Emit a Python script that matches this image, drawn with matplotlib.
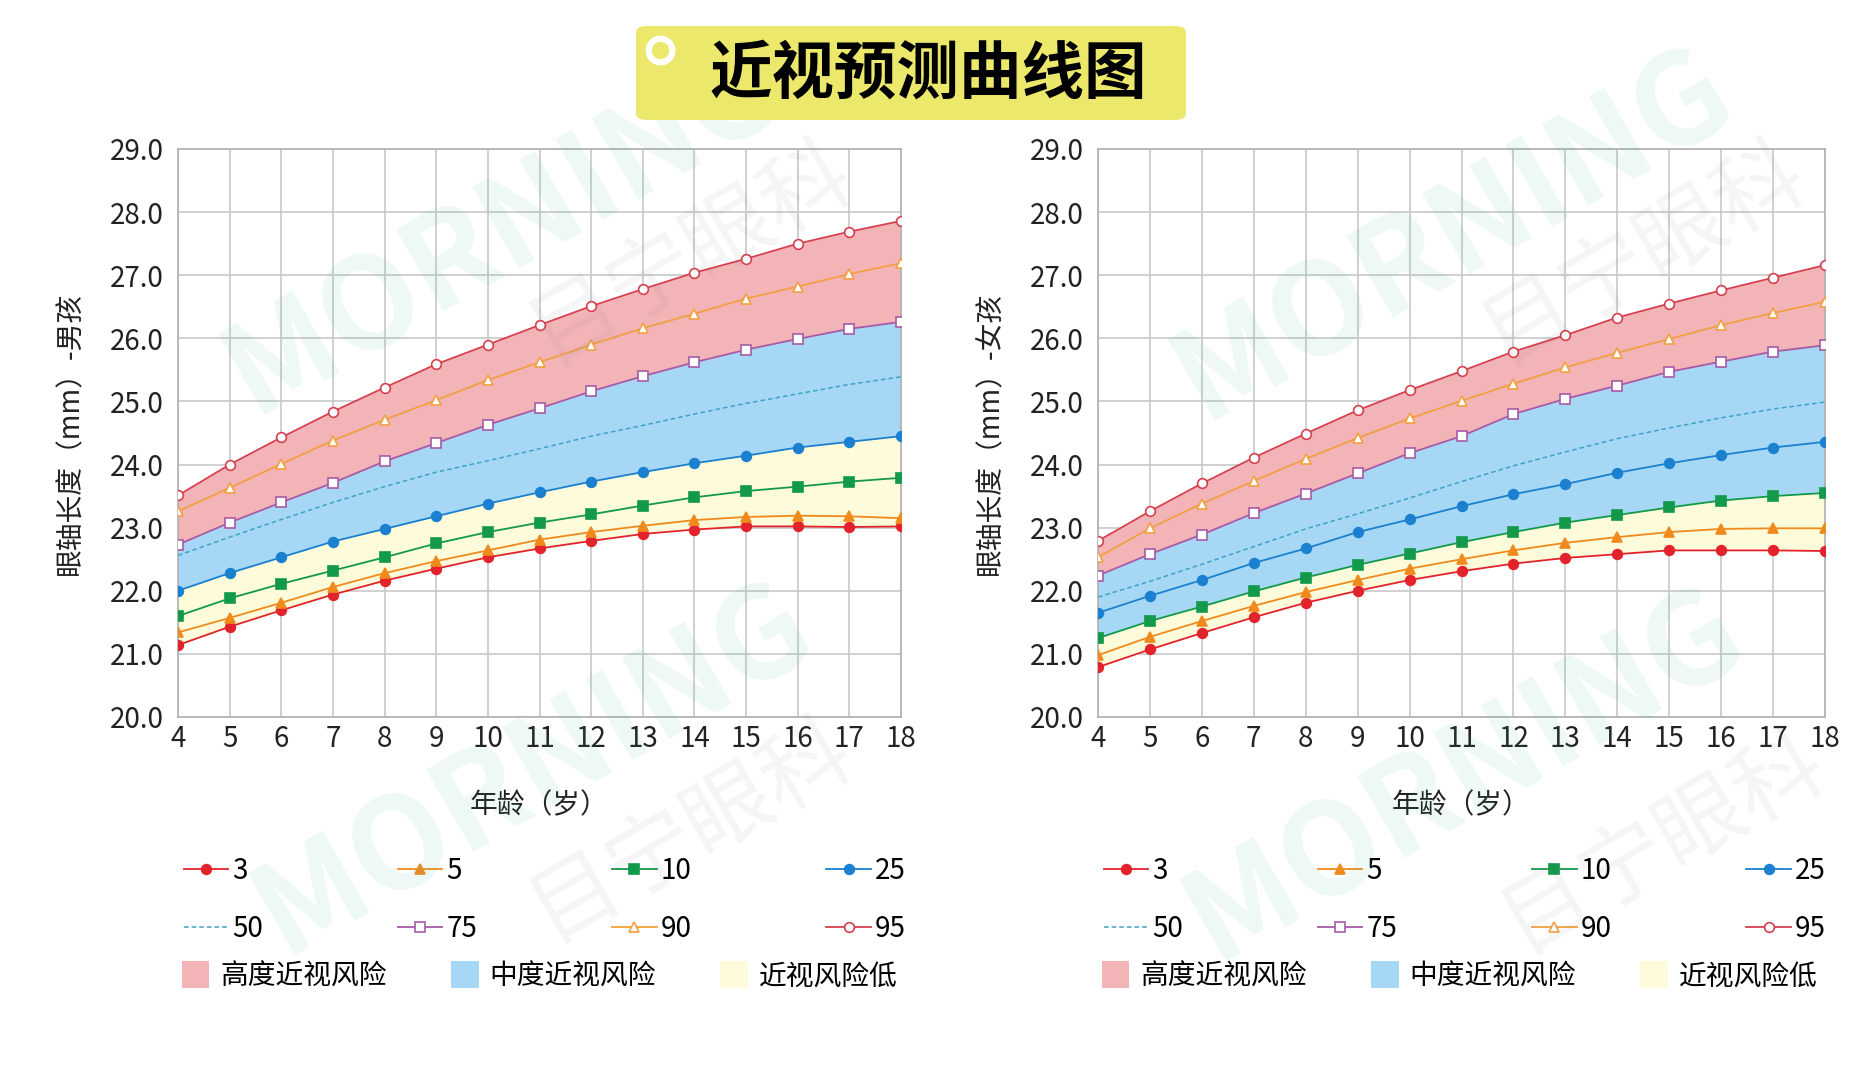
import matplotlib.pyplot as plt
from matplotlib.patches import FancyBboxPatch, Patch
from matplotlib.lines import Line2D

plt.rcParams['font.family'] = ['Noto Sans CJK SC', 'DejaVu Sans']

ages = list(range(4, 19))

# boys percentiles (mm)
boys_p3 = [21.14, 21.43, 21.69, 21.94, 22.16, 22.35, 22.53, 22.67, 22.79, 22.90, 22.97, 23.02, 23.02, 23.01, 23.02]
boys_p5 = [21.34, 21.57, 21.81, 22.06, 22.28, 22.47, 22.64, 22.81, 22.93, 23.03, 23.12, 23.17, 23.19, 23.18, 23.15]
boys_p10 = [21.60, 21.88, 22.11, 22.32, 22.53, 22.75, 22.93, 23.08, 23.21, 23.35, 23.48, 23.58, 23.65, 23.73, 23.79]
boys_p25 = [22.00, 22.28, 22.53, 22.78, 22.98, 23.18, 23.38, 23.56, 23.73, 23.88, 24.02, 24.14, 24.27, 24.36, 24.45]
boys_p50 = [22.56, 22.85, 23.13, 23.40, 23.65, 23.88, 24.06, 24.25, 24.45, 24.62, 24.80, 24.97, 25.12, 25.27, 25.39]
boys_p75 = [22.73, 23.08, 23.40, 23.71, 24.05, 24.34, 24.63, 24.89, 25.16, 25.40, 25.62, 25.82, 25.99, 26.15, 26.26]
boys_p90 = [23.26, 23.63, 24.01, 24.38, 24.71, 25.02, 25.34, 25.62, 25.90, 26.16, 26.39, 26.63, 26.82, 27.02, 27.19]
boys_p95 = [23.51, 24.00, 24.43, 24.84, 25.22, 25.59, 25.90, 26.21, 26.51, 26.78, 27.04, 27.26, 27.50, 27.69, 27.86]

# girls percentiles (mm)
girls_p3 = [20.79, 21.07, 21.33, 21.58, 21.81, 22.00, 22.17, 22.31, 22.43, 22.52, 22.58, 22.64, 22.64, 22.64, 22.63]
girls_p5 = [20.98, 21.27, 21.52, 21.76, 21.98, 22.17, 22.35, 22.50, 22.64, 22.76, 22.85, 22.93, 22.98, 22.99, 22.99]
girls_p10 = [21.25, 21.52, 21.75, 21.99, 22.21, 22.41, 22.59, 22.77, 22.93, 23.08, 23.20, 23.32, 23.43, 23.50, 23.55]
girls_p25 = [21.65, 21.92, 22.17, 22.44, 22.67, 22.93, 23.13, 23.34, 23.53, 23.69, 23.87, 24.02, 24.15, 24.27, 24.36]
girls_p50 = [21.90, 22.15, 22.42, 22.70, 22.98, 23.22, 23.47, 23.73, 23.98, 24.20, 24.41, 24.58, 24.74, 24.88, 24.99]
girls_p75 = [22.24, 22.58, 22.89, 23.23, 23.54, 23.86, 24.18, 24.45, 24.80, 25.04, 25.25, 25.47, 25.63, 25.79, 25.89]
girls_p90 = [22.53, 22.99, 23.38, 23.74, 24.09, 24.42, 24.73, 25.01, 25.28, 25.54, 25.77, 25.99, 26.21, 26.40, 26.58]
girls_p95 = [22.79, 23.26, 23.70, 24.11, 24.49, 24.86, 25.18, 25.48, 25.79, 26.05, 26.33, 26.55, 26.76, 26.96, 27.16]

labels = ['3', '5', '10', '25', '50', '75', '90', '95']
zone_labels = ['高度近视风险', '中度近视风险', '近视风险低']

pink = '#f3b4b8'
blue = '#a6d8f5'
yellow = '#fdfbd9'

# (color, marker, filled, linestyle)
styles = [
    ('#e3232c', 'o', True, '-'),
    ('#f08a1d', '^', True, '-'),
    ('#129a4a', 's', True, '-'),
    ('#1a80cf', 'o', True, '-'),
    ('#3ea2c8', None, True, (0, (3, 2))),
    ('#a65ba6', 's', False, '-'),
    ('#f0a040', '^', False, '-'),
    ('#d6404e', 'o', False, '-'),
]

fig = plt.figure(figsize=(18.72, 10.8), dpi=100)
fig.patch.set_facecolor('white')

# faint watermark
wm = dict(fontsize=92, alpha=0.09, fontweight='bold', rotation=30, ha='center', va='center',
          color='#3cb8a8', zorder=0)
for x, y in [(0.269, 0.789), (0.285, 0.289), (0.776, 0.783), (0.782, 0.283)]:
    fig.text(x, y, 'MORNING', **wm)
cn = dict(fontsize=64, alpha=0.07, rotation=30, ha='center', va='center', color='#707070', zorder=0)
for x, y in [(0.369, 0.767), (0.369, 0.233), (0.878, 0.767), (0.888, 0.222)]:
    fig.text(x, y, '目宁眼科', **cn)

# title box
box = FancyBboxPatch((636 / 1872, 1 - 120 / 1080), 550 / 1872, 94 / 1080,
                     boxstyle='round,pad=0,rounding_size=0.006', transform=fig.transFigure,
                     facecolor='#ece86c', edgecolor='none', zorder=2)
fig.patches.append(box)
fig.lines.append(Line2D([660 / 1872], [1 - 50 / 1080], transform=fig.transFigure, marker='o',
                        markersize=17, markerfacecolor='#ece86c', markeredgecolor='white',
                        markeredgewidth=4.5, linestyle='none', zorder=3))
fig.text(928 / 1872, 1 - 74 / 1080, '近视预测曲线图', fontsize=45, fontweight='bold',
         ha='center', va='center', color='black', zorder=4)


def draw(ax, series, blue_low, ylabel):
    p3, p5, p10, p25, p50, p75, p90, p95 = series
    ax.fill_between(ages, p75, p95, color=pink, lw=0, zorder=1)
    ax.fill_between(ages, blue_low, p75, color=blue, lw=0, zorder=1)
    ax.fill_between(ages, p3, blue_low, color=yellow, lw=0, zorder=1)
    handles = []
    for s, (c, m, filled, ls), lab in zip(series, styles, labels):
        h, = ax.plot(ages, s, color=c, lw=1.3 if m else 1.1, linestyle=ls, marker=m,
                     markersize=7, markerfacecolor=c if filled else 'white',
                     markeredgecolor=c, markeredgewidth=1.2, zorder=3, label=lab)
        handles.append(h)
    ax.set_xlim(4, 18)
    ax.set_ylim(20, 29)
    ax.set_xticks(ages)
    ax.set_yticks([20 + i for i in range(10)])
    ax.set_yticklabels([f'{20 + i:.1f}' for i in range(10)])
    ax.grid(True, color='#c8c8c8', lw=1.2, zorder=0)
    ax.set_axisbelow(True)
    for sp in ax.spines.values():
        sp.set_color('#b0b0b0')
        sp.set_linewidth(1.2)
    ax.tick_params(axis='y', length=0, labelsize=20, colors='#222222', pad=10)
    ax.tick_params(axis='x', length=0, labelsize=20, colors='#222222', pad=5)
    ax.set_xlabel('年龄（岁）', fontsize=20, labelpad=26, color='#222222')
    ax.set_ylabel(ylabel, fontsize=20, labelpad=18, color='#222222')
    ax.set_facecolor('none')

    # row-major order for a 4-column legend
    order = [0, 4, 1, 5, 2, 6, 3, 7]
    leg1 = ax.legend(handles=[handles[i] for i in order], loc='upper left',
                     bbox_to_anchor=(0.008, -0.245), ncol=4, frameon=False, fontsize=20,
                     handlelength=1.6, handletextpad=0.15, columnspacing=4.85,
                     labelspacing=1.0, borderaxespad=0, borderpad=0)
    ax.add_artist(leg1)
    zones = [Patch(facecolor=pink, edgecolor='none'), Patch(facecolor=blue, edgecolor='none'),
             Patch(facecolor=yellow, edgecolor='none')]
    ax.legend(handles=zones, labels=zone_labels, loc='upper left', bbox_to_anchor=(0.005, -0.43),
              ncol=3, frameon=False, fontsize=20, handlelength=1.0, handleheight=1.1,
              handletextpad=0.4, columnspacing=2.3, borderaxespad=0, borderpad=0)


ax1 = fig.add_axes([178 / 1872, 1 - 717 / 1080, 723 / 1872, 568 / 1080])
ax2 = fig.add_axes([1098 / 1872, 1 - 717 / 1080, 727 / 1872, 568 / 1080])

boys = [boys_p3, boys_p5, boys_p10, boys_p25, boys_p50, boys_p75, boys_p90, boys_p95]
girls = [girls_p3, girls_p5, girls_p10, girls_p25, girls_p50, girls_p75, girls_p90, girls_p95]

draw(ax1, boys, boys_p25, '眼轴长度（mm）-男孩')
draw(ax2, girls, girls_p10, '眼轴长度（mm）-女孩')

fig.savefig('out.png', dpi=100)
